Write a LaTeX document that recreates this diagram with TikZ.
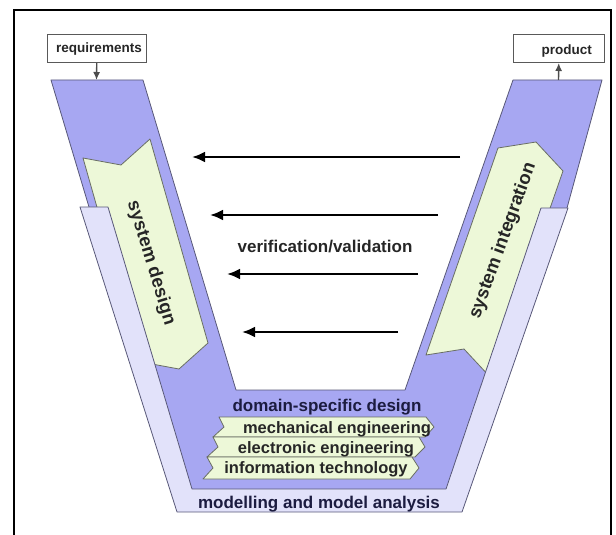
\documentclass[tikz,border=0pt]{standalone}
\usepackage{fontspec}
\setmainfont{Liberation Sans}
\usetikzlibrary{arrows.meta}

\definecolor{vdark}{RGB}{167,167,242}
\definecolor{vlight}{RGB}{226,226,250}
\definecolor{vgreen}{RGB}{237,248,216}
\definecolor{vedge}{RGB}{88,88,120}
\definecolor{gedge}{RGB}{105,110,100}
\definecolor{navy}{RGB}{28,28,64}

\begin{document}
\begin{tikzpicture}[x=1pt,y=-1pt,
  vfill/.style={fill=vdark, draw=vedge, line width=0.8pt, line join=round},
  mfill/.style={fill=vlight, draw=vedge, line width=0.8pt, line join=round},
  gfill/.style={fill=vgreen, draw=gedge, line width=0.8pt, line join=round},
  lbl/.style={font=\fontsize{17}{20}\selectfont\bfseries, text=navy, inner sep=0pt},
  bandlbl/.style={font=\fontsize{16.5}{19}\selectfont\bfseries, text=black!85, inner sep=0pt},
  armlbl/.style={font=\fontsize{18.5}{22}\selectfont\bfseries, text=black!85, inner sep=0pt},
  boxlbl/.style={font=\fontsize{13.5}{16}\selectfont\bfseries, text=black!85, inner sep=0pt},
  iobox/.style={draw=black!65, line width=1pt, fill=white, inner sep=0pt, anchor=north west},
  ioarrow/.style={draw=black!70, line width=1.4pt, -{Latex[length=8pt,width=7pt]}},
  vvarrow/.style={line width=2.7pt, -{Latex[length=13pt,width=11pt]}}
]
\useasboundingbox (0,0) rectangle (616,535);

% outer frame, open at the bottom
\draw[line width=2pt] (14,535) -- (14,10) -- (611,10) -- (611,535);

% domain-specific design V
\draw[vfill] (51,80) -- (143,80) -- (236,390) -- (405,390) -- (513,80) -- (602,80)
  -- (567,208) -- (455,495) -- (183,495) -- (89,207) -- cycle;

% system design (down) and system integration (up)
\draw[gfill] (83,158) -- (121,165) -- (150,139) -- (208,343) -- (179,369) -- (141,362) -- cycle;
\draw[gfill] (498,148) -- (536,142) -- (563,171) -- (491,378) -- (464,349) -- (426,355) -- cycle;

% modelling and model analysis band
\draw[mfill] (80,207) -- (177,512) -- (462,512) -- (568,208) -- (541,208)
  -- (446,489) -- (192,489) -- (108,207) -- cycle;

% domain chevrons
\draw[gfill] (219,417) -- (426,417) -- (434,427) -- (425,437) -- (213,437) -- (224,427) -- cycle;
\draw[gfill] (213,437) -- (419,437) -- (425,447) -- (415,457) -- (207,457) -- (218,447) -- cycle;
\draw[gfill] (207,457) -- (412,457) -- (419,468) -- (410,479) -- (203,479) -- (213,468) -- cycle;

% labels
\node[armlbl, rotate=-73] (sd) at (151,263) {system design};
\node[armlbl, rotate=70] (si) at (503,241) {system integration};
\node[lbl, anchor=base] (dsd) at (327,411) {domain-specific design};
\node[bandlbl, anchor=base] (me) at (337,433) {mechanical engineering};
\node[bandlbl, anchor=base] (ee) at (326,453) {electronic engineering};
\node[bandlbl, anchor=base] (it) at (316,473) {information technology};
\node[lbl, anchor=base] (mma) at (319,508) {modelling and model analysis};
\node[lbl, text=black!85, anchor=base] (vv) at (325,252) {verification/validation};

% input and output boxes
\node[iobox, minimum width=99pt, minimum height=28pt] (req) at (47,34) {};
\node[boxlbl, anchor=base] (reqt) at (99,53) {requirements};
\node[iobox, minimum width=91pt, minimum height=28pt] (prod) at (513,34) {};
\node[boxlbl, anchor=base east] (prodt) at (592,55) {product};
\coordinate (reqin) at (96.5,80);
\coordinate (prodout) at (558.5,80);
\draw[ioarrow] (req) -- (reqin);
\draw[ioarrow] (prodout) -- (prod);

% verification / validation arrows
\coordinate (a1s) at (460,157); \coordinate (a1e) at (192,157);
\coordinate (a2s) at (438,215); \coordinate (a2e) at (210,215);
\coordinate (a3s) at (418,274); \coordinate (a3e) at (227,274);
\coordinate (a4s) at (398,332); \coordinate (a4e) at (242,332);
\draw[vvarrow] (a1s) -- (a1e);
\draw[vvarrow] (a2s) -- (a2e);
\draw[vvarrow] (a3s) -- (a3e);
\draw[vvarrow] (a4s) -- (a4e);
\end{tikzpicture}
\end{document}
